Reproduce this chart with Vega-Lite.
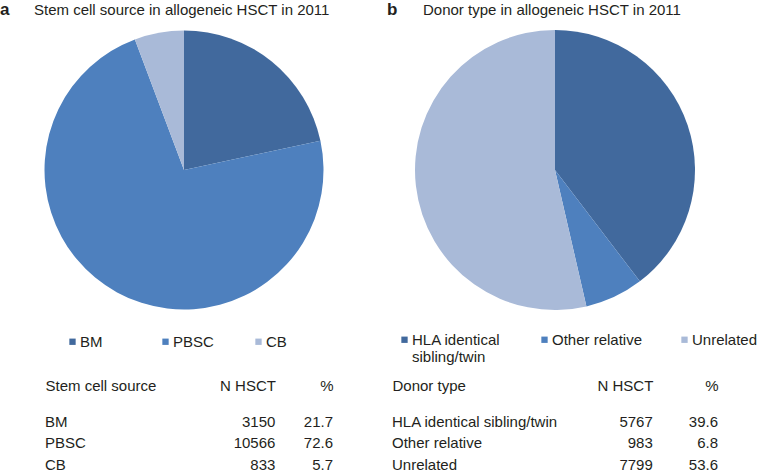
{
  "$schema": "https://vega.github.io/schema/vega-lite/v6.json",
  "background": "white",
  "padding": {"left": 0, "top": 0, "right": 0, "bottom": 0},
  "config": {
    "view": {"stroke": null},
    "font": "Liberation Sans",
    "text": {"font": "Liberation Sans", "fontSize": 15, "color": "#231f20"}
  },
  "datasets": {
    "source": [
      {"category": "BM", "rank": 1, "n": 3150, "pct": 21.7},
      {"category": "PBSC", "rank": 2, "n": 10566, "pct": 72.6},
      {"category": "CB", "rank": 3, "n": 833, "pct": 5.7}
    ],
    "donor": [
      {"category": "HLA identical sibling/twin", "rank": 1, "n": 5767, "pct": 39.6},
      {"category": "Other relative", "rank": 2, "n": 983, "pct": 6.8},
      {"category": "Unrelated", "rank": 3, "n": 7799, "pct": 53.6}
    ]
  },
  "spacing": 19,
  "resolve": {
    "scale": {"color": "independent", "theta": "independent", "x": "independent", "y": "independent"},
    "legend": {"color": "independent"}
  },
  "hconcat": [
    {
      "spacing": 100.75,
      "bounds": "flush",
      "title": {"text": "a", "anchor": "start", "frame": "group", "font": "Liberation Sans", "fontSize": 17, "fontWeight": "bold", "color": "#231f20", "offset": 0, "dy": 15.5},
      "vconcat": [
        {
          "data": {"name": "source"},
          "width": 368,
          "height": 280,
          "title": {"text": "Stem cell source in allogeneic HSCT in 2011", "anchor": "start", "frame": "group", "dx": 34, "font": "Liberation Sans", "fontSize": 15, "fontWeight": "normal", "color": "#231f20", "offset": 12},
          "mark": {"type": "arc", "outerRadius": 139.5},
          "encoding": {
            "theta": {"field": "n", "type": "quantitative", "stack": true},
            "order": {"field": "rank", "type": "quantitative"},
            "color": {
              "field": "category",
              "type": "nominal",
              "sort": ["BM", "PBSC", "CB"],
              "scale": {"domain": ["BM", "PBSC", "CB"], "range": ["#41699d", "#4e80be", "#a9bad8"]},
              "legend": {
                "orient": "none",
                "legendX": 65,
                "legendY": 304,
                "direction": "horizontal",
                "gridAlign": "all",
                "title": null,
                "symbolType": "square",
                "symbolSize": 40,
                "symbolStrokeWidth": 0,
                "labelFont": "Liberation Sans",
                "labelFontSize": 15,
                "labelColor": "#231f20",
                "labelOffset": 0,
                "columnPadding": 37
              }
            }
          }
        },
        {
          "data": {"name": "source"},
          "width": 368,
          "height": {"step": 21.5},
          "encoding": {
            "y": {"field": "category", "type": "nominal", "sort": null, "axis": null, "scale": {"type": "point", "padding": 0.5}}
          },
          "layer": [
            {
              "mark": {"type": "text", "align": "left"},
              "encoding": {
                "x": {
                  "datum": "Stem cell source",
                  "type": "nominal",
                  "scale": {"type": "point", "domain": ["Stem cell source", "_1", "_2", "_3", "N HSCT", "%"], "range": [45, 333], "padding": 0},
                  "axis": {
                    "orient": "top",
                    "values": ["Stem cell source", "N HSCT", "%"],
                    "title": null,
                    "domain": false,
                    "ticks": false,
                    "grid": false,
                    "labelAngle": 0,
                    "labelOverlap": false,
                    "labelFont": "Liberation Sans",
                    "labelFontSize": 15,
                    "labelColor": "#231f20",
                    "labelPadding": 17,
                    "labelAlign": {"condition": {"test": "datum.value === 'Stem cell source'", "value": "left"}, "value": "right"}
                  }
                },
                "text": {"field": "category", "type": "nominal"}
              }
            },
            {
              "mark": {"type": "text", "align": "right"},
              "encoding": {
                "x": {"datum": "N HSCT", "type": "nominal"},
                "text": {"field": "n", "type": "quantitative", "format": "d"}
              }
            },
            {
              "mark": {"type": "text", "align": "right"},
              "encoding": {
                "x": {"datum": "%", "type": "nominal"},
                "text": {"field": "pct", "type": "quantitative", "format": ".1f"}
              }
            }
          ]
        }
      ]
    },
    {
      "spacing": 100.75,
      "bounds": "flush",
      "title": {"text": "b", "anchor": "start", "frame": "group", "font": "Liberation Sans", "fontSize": 17, "fontWeight": "bold", "color": "#231f20", "offset": 0, "dy": 15.5},
      "vconcat": [
        {
          "data": {"name": "donor"},
          "width": 336,
          "height": 280,
          "title": {"text": "Donor type in allogeneic HSCT in 2011", "anchor": "start", "frame": "group", "dx": 36, "font": "Liberation Sans", "fontSize": 15, "fontWeight": "normal", "color": "#231f20", "offset": 12},
          "mark": {"type": "arc", "outerRadius": 140},
          "encoding": {
            "theta": {"field": "n", "type": "quantitative", "stack": true},
            "order": {"field": "rank", "type": "quantitative"},
            "color": {
              "field": "category",
              "type": "nominal",
              "sort": ["HLA identical sibling/twin", "Other relative", "Unrelated"],
              "scale": {"domain": ["HLA identical sibling/twin", "Other relative", "Unrelated"], "range": ["#41699d", "#4e80be", "#a9bad8"]},
              "legend": {
                "orient": "none",
                "legendX": 10,
                "legendY": 302,
                "direction": "horizontal",
                "gridAlign": "all",
                "title": null,
                "symbolType": "square",
                "symbolSize": 40,
                "symbolStrokeWidth": 0,
                "labelFont": "Liberation Sans",
                "labelFontSize": 15,
                "labelColor": "#231f20",
                "labelOffset": 0,
                "columnPadding": 34,
                "labelExpr": "datum.label === 'HLA identical sibling/twin' ? ['HLA identical', 'sibling/twin'] : [datum.label, ' ']"
              }
            }
          }
        },
        {
          "data": {"name": "donor"},
          "width": 336,
          "height": {"step": 21.5},
          "encoding": {
            "y": {"field": "category", "type": "nominal", "sort": null, "axis": null, "scale": {"type": "point", "padding": 0.5}}
          },
          "layer": [
            {
              "mark": {"type": "text", "align": "left"},
              "encoding": {
                "x": {
                  "datum": "Donor type",
                  "type": "nominal",
                  "scale": {"type": "point", "domain": ["Donor type", "_1", "_2", "_3", "N HSCT", "%"], "range": [5, 331], "padding": 0},
                  "axis": {
                    "orient": "top",
                    "values": ["Donor type", "N HSCT", "%"],
                    "title": null,
                    "domain": false,
                    "ticks": false,
                    "grid": false,
                    "labelAngle": 0,
                    "labelOverlap": false,
                    "labelFont": "Liberation Sans",
                    "labelFontSize": 15,
                    "labelColor": "#231f20",
                    "labelPadding": 17,
                    "labelAlign": {"condition": {"test": "datum.value === 'Donor type'", "value": "left"}, "value": "right"}
                  }
                },
                "text": {"field": "category", "type": "nominal"}
              }
            },
            {
              "mark": {"type": "text", "align": "right"},
              "encoding": {
                "x": {"datum": "N HSCT", "type": "nominal"},
                "text": {"field": "n", "type": "quantitative", "format": "d"}
              }
            },
            {
              "mark": {"type": "text", "align": "right"},
              "encoding": {
                "x": {"datum": "%", "type": "nominal"},
                "text": {"field": "pct", "type": "quantitative", "format": ".1f"}
              }
            }
          ]
        }
      ]
    }
  ]
}
